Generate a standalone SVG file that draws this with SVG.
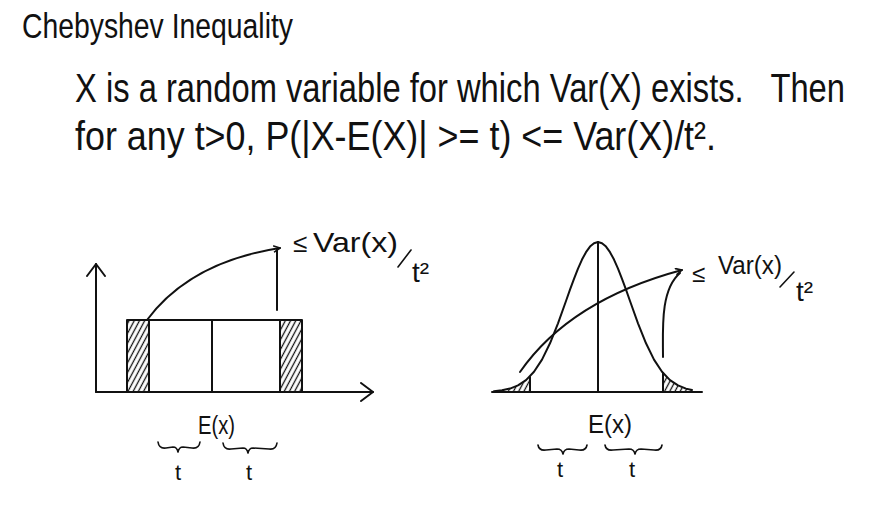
<svg xmlns="http://www.w3.org/2000/svg" width="896" height="518" viewBox="0 0 896 518">
  <style>
    .ink { fill: none; stroke: #111; stroke-width: 2; stroke-linecap: round; stroke-linejoin: round; }
    .thin { fill: none; stroke: #111; stroke-width: 1.6; stroke-linecap: round; stroke-linejoin: round; }
    .txt { fill: #111; font-family: "Liberation Sans", "DejaVu Sans", sans-serif; }
  </style>
  <defs>
    <pattern id="hatch" patternUnits="userSpaceOnUse" width="4.6" height="10" patternTransform="rotate(28)">
      <line x1="2.3" y1="0" x2="2.3" y2="10" stroke="#111" stroke-width="1.3"/>
    </pattern>
    <marker id="axhead" viewBox="0 0 14 20" refX="13" refY="10" markerWidth="14" markerHeight="20" markerUnits="userSpaceOnUse" orient="auto">
      <path d="M1,1 L13,10 L1,19" fill="none" stroke="#111" stroke-width="2" stroke-linecap="round" stroke-linejoin="round"/>
    </marker>
    <marker id="tick" viewBox="0 0 8 8" refX="7" refY="4" markerWidth="8" markerHeight="8" markerUnits="userSpaceOnUse" orient="auto">
      <path d="M1,1 L7,4 L1,7" fill="none" stroke="#111" stroke-width="1.6" stroke-linecap="round" stroke-linejoin="round"/>
    </marker>
  </defs>
  <rect width="896" height="518" fill="#ffffff"/>

  <g id="title">
    <text class="txt" transform="translate(22,38) scale(1,1.27)" x="0" y="0" font-size="28.3" textLength="271" lengthAdjust="spacingAndGlyphs">Chebyshev Inequality</text>
  </g>

  <g id="statement">
    <text class="txt" transform="translate(75,102) scale(1,1.23)" x="0" y="0" font-size="32.6" textLength="770" lengthAdjust="spacingAndGlyphs" xml:space="preserve">X is a random variable for which Var(X) exists.   Then</text>
    <text class="txt" transform="translate(75,150) scale(1,1.12)" x="0" y="0" font-size="35.7" textLength="641" lengthAdjust="spacingAndGlyphs">for any t&gt;0, P(|X-E(X)| &gt;= t) &lt;= Var(X)/t².</text>
  </g>

  <g id="left-plot">
    <line class="ink" x1="96" y1="392" x2="96" y2="264" marker-end="url(#axhead)"/>
    <line class="ink" x1="96" y1="392" x2="373" y2="392" marker-end="url(#axhead)"/>
    <rect x="127" y="320" width="22" height="72" fill="url(#hatch)"/>
    <rect x="280" y="320" width="22" height="72" fill="url(#hatch)"/>
    <path class="ink" d="M127,392 L127,320 L302,320 L302,392 M149,320 L149,392 M212,320 L212,392 M280,320 L280,392"/>
    <text class="txt" x="198" y="434" font-size="25" textLength="37" lengthAdjust="spacingAndGlyphs">E(x)</text>
    <path class="thin" d="M158,442 Q159,449 166,448 L173,447 Q177,447 178,452 Q179,447 183,447 L192,448 Q199,449 200,442"/>
    <path class="thin" d="M223,443 Q224,450 231,449 L243,448 Q247,448 248,453 Q249,448 253,448 L269,449 Q276,450 277,443"/>
    <text class="txt" x="175" y="480" font-size="22">t</text>
    <text class="txt" x="246" y="480" font-size="22">t</text>
  </g>

  <g id="left-label">
    <text class="txt" x="293" y="252" font-size="26">≤</text>
    <text class="txt" x="313" y="252" font-size="28" textLength="85" lengthAdjust="spacingAndGlyphs">Var(x)</text>
    <line class="thin" x1="398" y1="267" x2="411" y2="250"/>
    <text class="txt" x="412" y="282" font-size="28">t²</text>
  </g>

  <g id="right-plot">
    <path d="M494,391.2 L502,390.3 L510,388.6 L518,385.4 L526,380.1 L530,376 L530,392 L494,392 Z" fill="url(#hatch)"/>
    <path d="M663,373 L670,380.1 L678,385.4 L686,388.6 L692,390 L692,392 L663,392 Z" fill="url(#hatch)"/>
    <line class="ink" x1="492" y1="392" x2="702" y2="392"/>
    <polyline class="ink" points="494,391.2 502,390.3 510,388.6 518,385.4 526,380.1 534,371.7 542,359.6 550,343.3 558,323.3 566,301 570,289.7 574,278.8 578,268.6 582,259.6 586,252.2 590,246.6 594,243.2 598,242 602,243.2 606,246.6 610,252.2 614,259.6 618,268.6 622,278.8 626,289.7 630,301 638,323.3 646,343.3 654,359.6 662,371.7 670,380.1 678,385.4 686,388.6 692,390"/>
    <line class="ink" x1="598" y1="242" x2="598" y2="392"/>
    <line class="ink" x1="530" y1="377" x2="530" y2="392"/>
    <line class="ink" x1="663" y1="373" x2="663" y2="392"/>
    <text class="txt" x="588" y="433" font-size="25" textLength="44" lengthAdjust="spacingAndGlyphs">E(x)</text>
    <path class="thin" d="M538,445 Q539,451 546,450 L557,449 Q562,449 563,454 Q564,449 569,449 L579,450 Q586,451 587,445"/>
    <path class="thin" d="M605,445 Q606,451 613,450 L629,449 Q634,449 635,454 Q636,449 641,449 L654,450 Q661,451 662,445"/>
    <text class="txt" x="557" y="477" font-size="22">t</text>
    <text class="txt" x="629" y="477" font-size="22">t</text>
  </g>

  <g id="right-label">
    <text class="txt" x="692" y="282" font-size="24">≤</text>
    <text class="txt" x="718" y="274" font-size="26" textLength="64" lengthAdjust="spacingAndGlyphs">Var(x)</text>
    <line class="thin" x1="780" y1="287" x2="794" y2="272"/>
    <text class="txt" x="796" y="301" font-size="28">t²</text>
  </g>

  <g id="connectors">
    <path class="ink" d="M147,320 Q190,262 280,248" marker-end="url(#tick)"/>
    <line class="ink" x1="277" y1="249" x2="277" y2="310"/>
    <path class="ink" d="M520,372 Q570,300 682,270" marker-end="url(#tick)"/>
    <path class="ink" d="M663,357 C663,330 660,290 680,273"/>
  </g>
</svg>
